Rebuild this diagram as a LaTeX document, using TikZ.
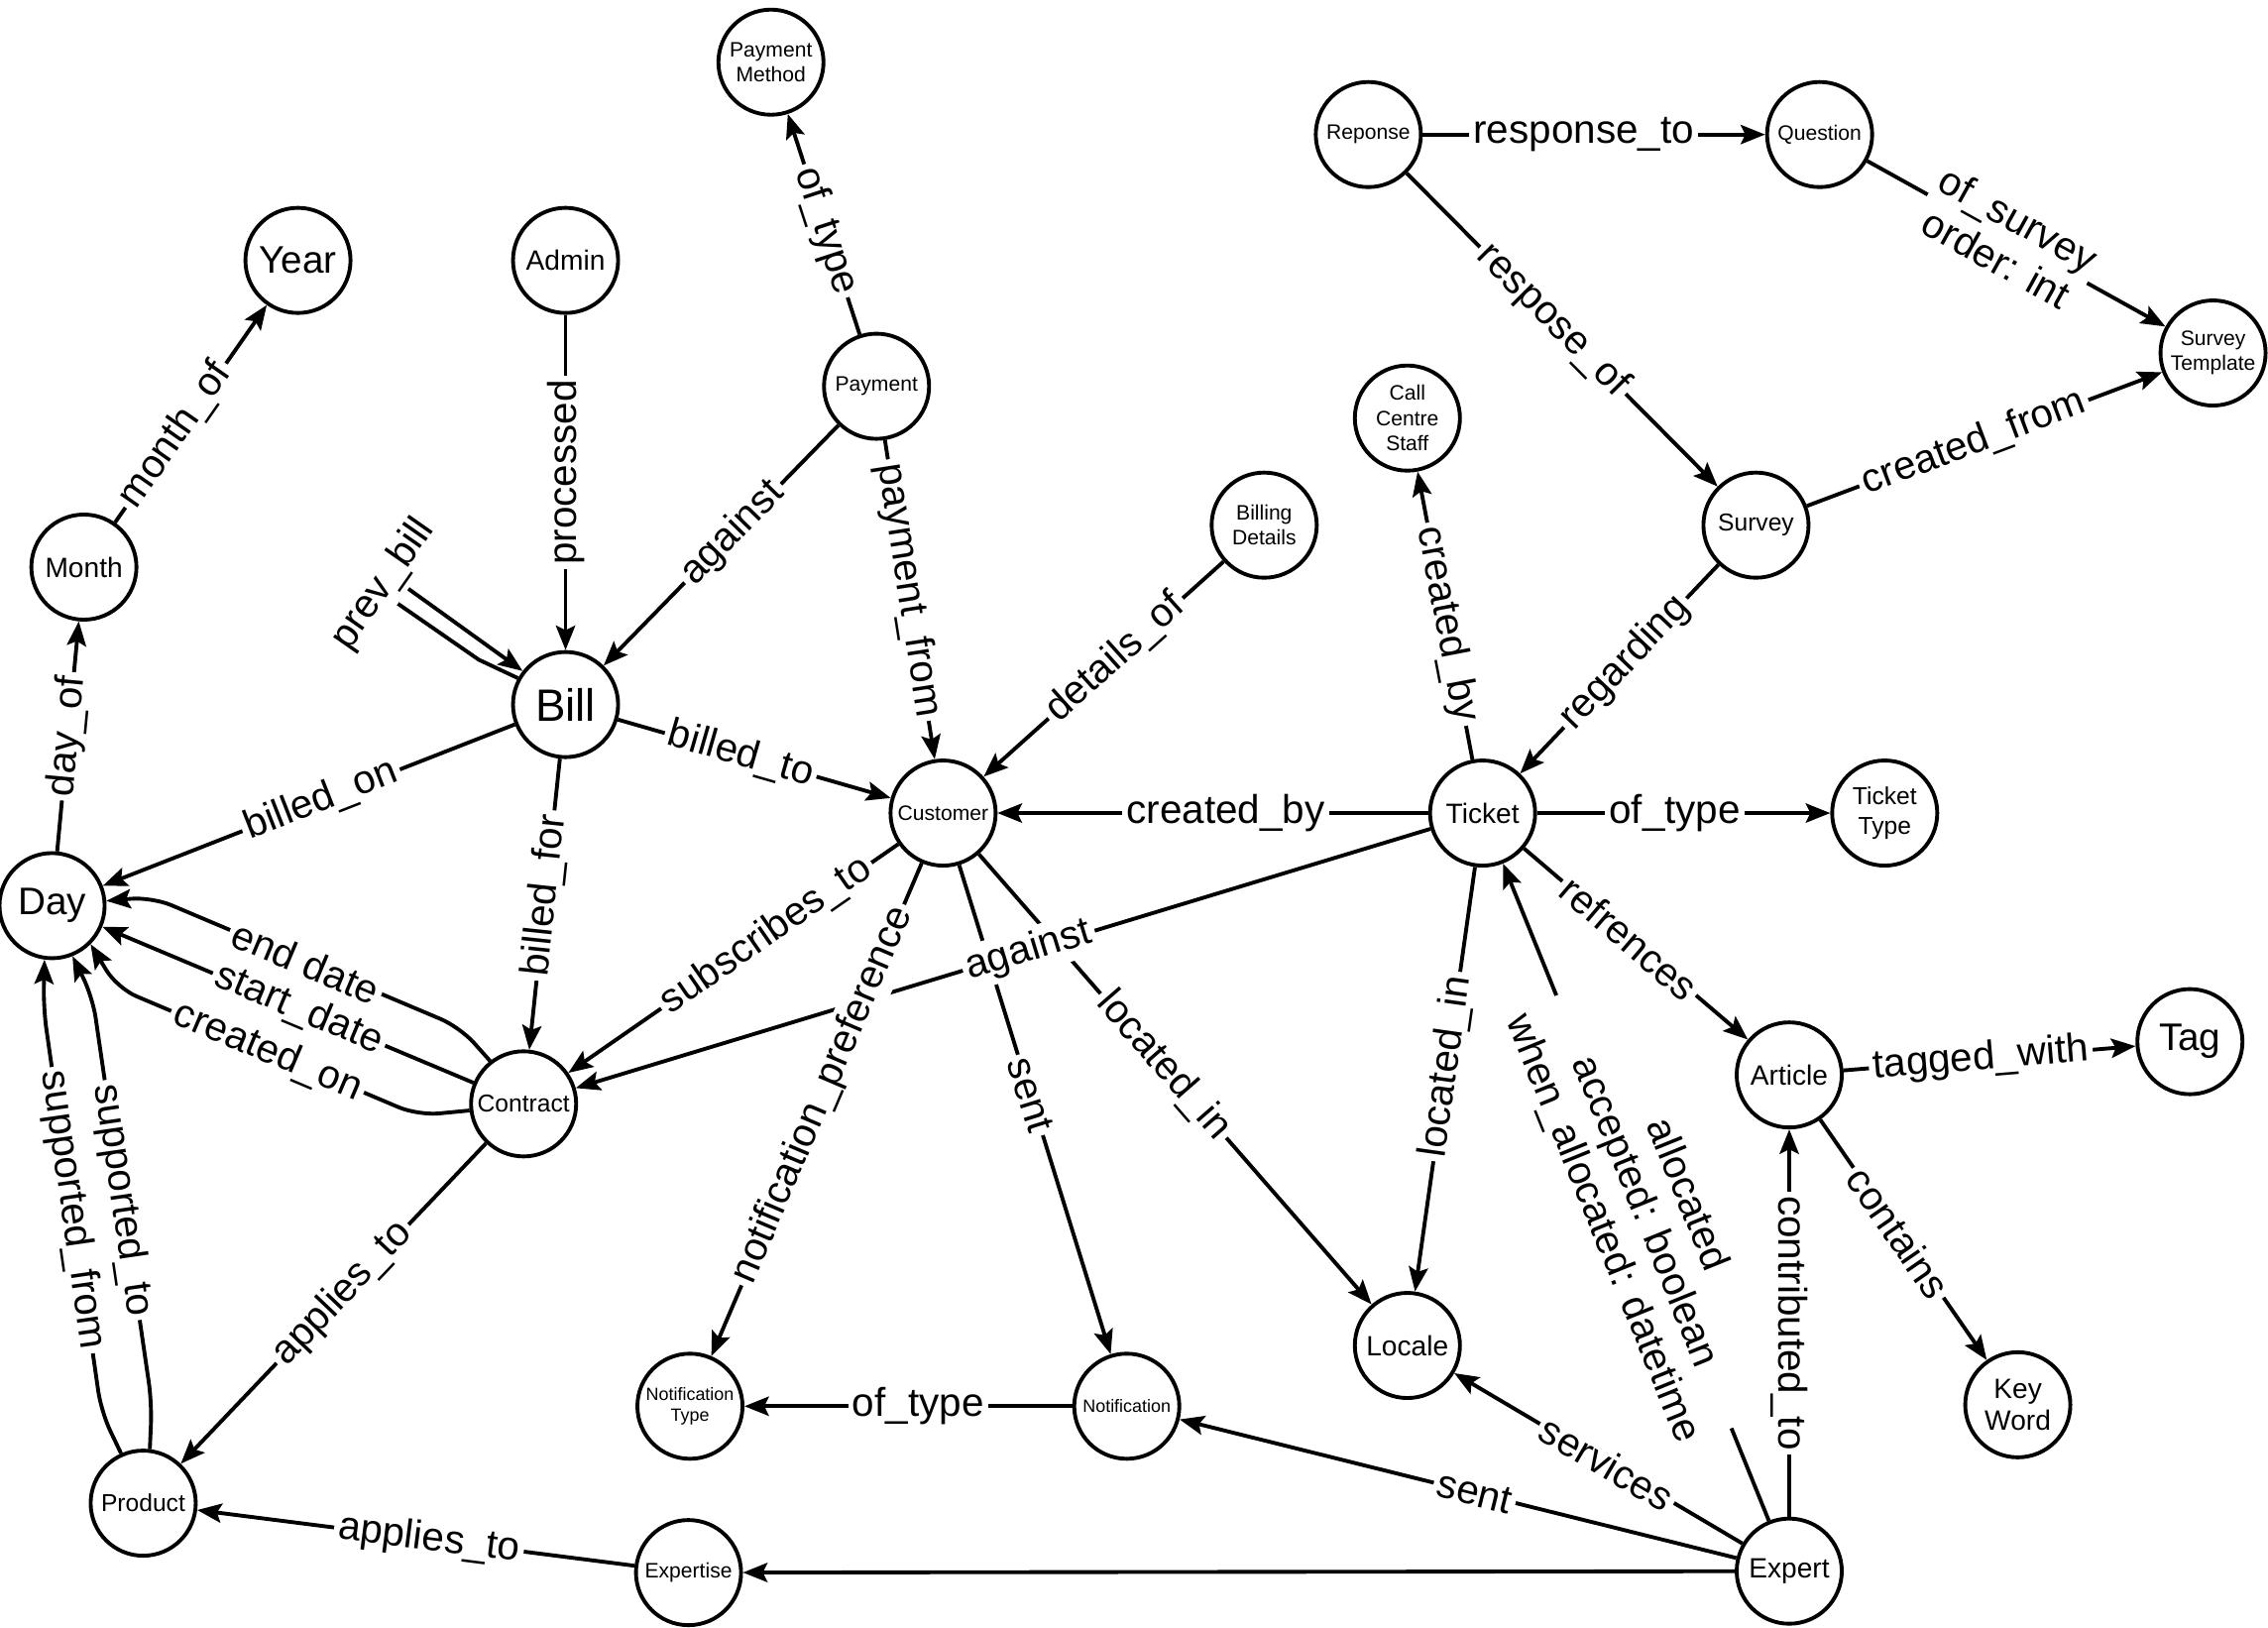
\documentclass[tikz,border=0pt]{standalone}
\usepackage{fontspec}
\setmainfont{Liberation Sans}
\usetikzlibrary{shapes,arrows.meta}
\tikzstyle{entity} = [circle, draw, line width=1.1pt,
    minimum size=1.06cm, inner sep=0pt, align=center]
\tikzstyle{fbill} = [font=\fontsize{13}{15}\selectfont]
\tikzstyle{flarge} = [font=\fontsize{11}{13}\selectfont]
\tikzstyle{fnorm} = [font=\fontsize{8}{9.2}\selectfont]
\tikzstyle{fsmall} = [font=\fontsize{7}{8.7}\selectfont]
\tikzstyle{fsmaller} = [font=\fontsize{6}{7.2}\selectfont]
\tikzstyle{ftiny} = [font=\fontsize{5.1}{6.2}\selectfont]
\tikzstyle{line} = [draw, line width=1.1pt,
    -{Stealth[length=7pt,width=5.5pt,inset=1.3pt]}]
\tikzstyle{lbl} = [fill=white, inner sep=1.2pt,
    font=\fontsize{11.5}{13}\selectfont, align=center]
\tikzstyle{slbl} = [lbl, sloped, pos=0.47]

\begin{document}
\begin{tikzpicture}[x=0.01459cm, y=-0.01459cm]
    \useasboundingbox (0,0) rectangle (1568,1125);
    % Place nodes
    \node [entity, fsmaller] (paymethod) at (533,43) {Payment\\Method};
    \node [entity, fsmaller] (reponse) at (946,93) {Reponse};
    \node [entity, fsmaller] (question) at (1258,93) {Question};
    \node [entity, flarge] (year) at (206,180) {Year};
    \node [entity, fnorm] (admin) at (391,180) {Admin};
    \node [entity, fsmaller] (template) at (1530,244) {Survey\\Template};
    \node [entity, fsmaller] (payment) at (606,267) {Payment};
    \node [entity, fsmaller] (staff) at (973,289) {Call\\Centre\\Staff};
    \node [entity, fsmall] (survey) at (1214,363) {Survey};
    \node [entity, fsmaller] (billing) at (874,363) {Billing\\Details};
    \node [entity, fnorm] (month) at (58,392) {Month};
    \node [entity, fbill] (bill) at (391,487) {Bill};
    \node [entity, fsmaller] (customer) at (652,562) {Customer};
    \node [entity, fnorm] (ticket) at (1025,562) {Ticket};
    \node [entity, fsmall] (tickettype) at (1303,562) {Ticket\\Type};
    \node [entity, flarge] (day) at (36,626) {Day};
    \node [entity, fsmall] (contract) at (362,763) {Contract};
    \node [entity, fnorm] (article) at (1237,743) {Article};
    \node [entity, flarge] (tag) at (1514,720) {Tag};
    \node [entity, fnorm] (locale) at (973,930) {Locale};
    \node [entity, fnorm] (keyword) at (1395,971) {Key\\Word};
    \node [entity, ftiny] (notiftype) at (477,972) {Notification\\Type};
    \node [entity, ftiny] (notif) at (779,972) {Notification};
    \node [entity, fsmall] (product) at (99,1039) {Product};
    \node [entity, fsmaller] (expertise) at (476,1087) {Expertise};
    \node [entity, fnorm] (expert) at (1237,1086) {Expert};
    % Draw edges
    \path [line] (payment) -- node [slbl] {of\_type} (paymethod);
    \path [line] (reponse) -- node [slbl] {response\_to} (question);
    \path [line] (question) -- node [slbl] {of\_survey\\order: int} (template);
    \path [line] (reponse) -- node [slbl] {respose\_of} (survey);
    \path [line] (survey) -- node [slbl] {created\_from} (template);
    \path [line] (survey) -- node [slbl] {regarding} (ticket);
    \path [line] (ticket) -- node [slbl] {created\_by} (staff);
    \path [line] (ticket) -- node [slbl] {of\_type} (tickettype);
    \path [line] (ticket) -- node [slbl] {created\_by} (customer);
    \path [line] (ticket) -- node [slbl] {refrences} (article);
    \path [line] (ticket) -- node [slbl] {located\_in} (locale);
    \path [line] (customer) -- node [slbl] {sent} (notif);
    \path [line] (customer) -- node [slbl] {located\_in} (locale);
    \path [line] (ticket) -- node [slbl] {against} (contract);
    \path [line] (customer) -- node [slbl] {notification\_preference} (notiftype);
    \path [line] (customer) -- node [slbl, pos=0.4] {subscribes\_to} (contract);
    \path [line] (expert) -- node [slbl] {allocated\\accepted: boolean\\when\_allocated: datetime} (ticket);
    \path [line] (expert) -- node [lbl, rotate=-90] {contributed\_to} (article);
    \path [line] (expert) -- node [slbl] {services} (locale);
    \path [line] (expert) -- node [slbl] {sent} (notif);
    \path [line] (expert) -- (expertise);
    \path [line] (expertise) -- node [slbl] {applies\_to} (product);
    \path [line] (article) -- node [slbl] {tagged\_with} (tag);
    \path [line] (article) -- node [slbl] {contains} (keyword);
    \path [line] (notif) -- node [slbl] {of\_type} (notiftype);
    \path [line] (billing) -- node [slbl, pos=0.45] {details\_of} (customer);
    \path [line] (payment) -- node [slbl] {payment\_from} (customer);
    \path [line] (payment) -- node [slbl, pos=0.45] {against} (bill);
    \path [line] (admin) -- node [lbl, rotate=90, pos=0.47] {processed} (bill);
    \path [line] (bill) -- node [slbl, pos=0.45] {billed\_to} (customer);
    \path [line] (bill) -- node [slbl] {billed\_on} (day);
    \path [line] (bill) -- node [slbl] {billed\_for} (contract);
    \path [line] (contract) -- node [slbl] {applies\_to} (product);
    \path [line, rounded corners=6pt] (contract.128) -- (318,710) -- node [slbl, midway] {end date} (105,620) -- (day.5);
    \path [line] (contract) -- node [slbl] {start\_date} (day);
    \path [line, rounded corners=6pt] (contract.187) -- (289,771) -- node [slbl, midway] {created\_on} (81,683) -- (day.-45);
    \path [line, rounded corners=6pt] (product.114) -- (70,976) -- node [slbl, midway] {supported\_from} (30,697) -- (day.262);
    \path [line, rounded corners=6pt] (product.83) -- (105,970) -- node [slbl, midway] {supported\_to} (64,689) -- (day.-68);
    \path [line] (day) -- node [slbl, midway] {day\_of} (month);
    \path [line] (month) -- node [slbl, pos=0.4] {month\_of} (year);
    % self loop, turn hidden under its label
    \path [line] (bill.151) -- (331,456) -- (266,411) -- (274,401) -- (bill.142);
    \node [lbl, rotate=55] (prevbill) at (265,404) {prev\_bill};
\end{tikzpicture}
\end{document}
